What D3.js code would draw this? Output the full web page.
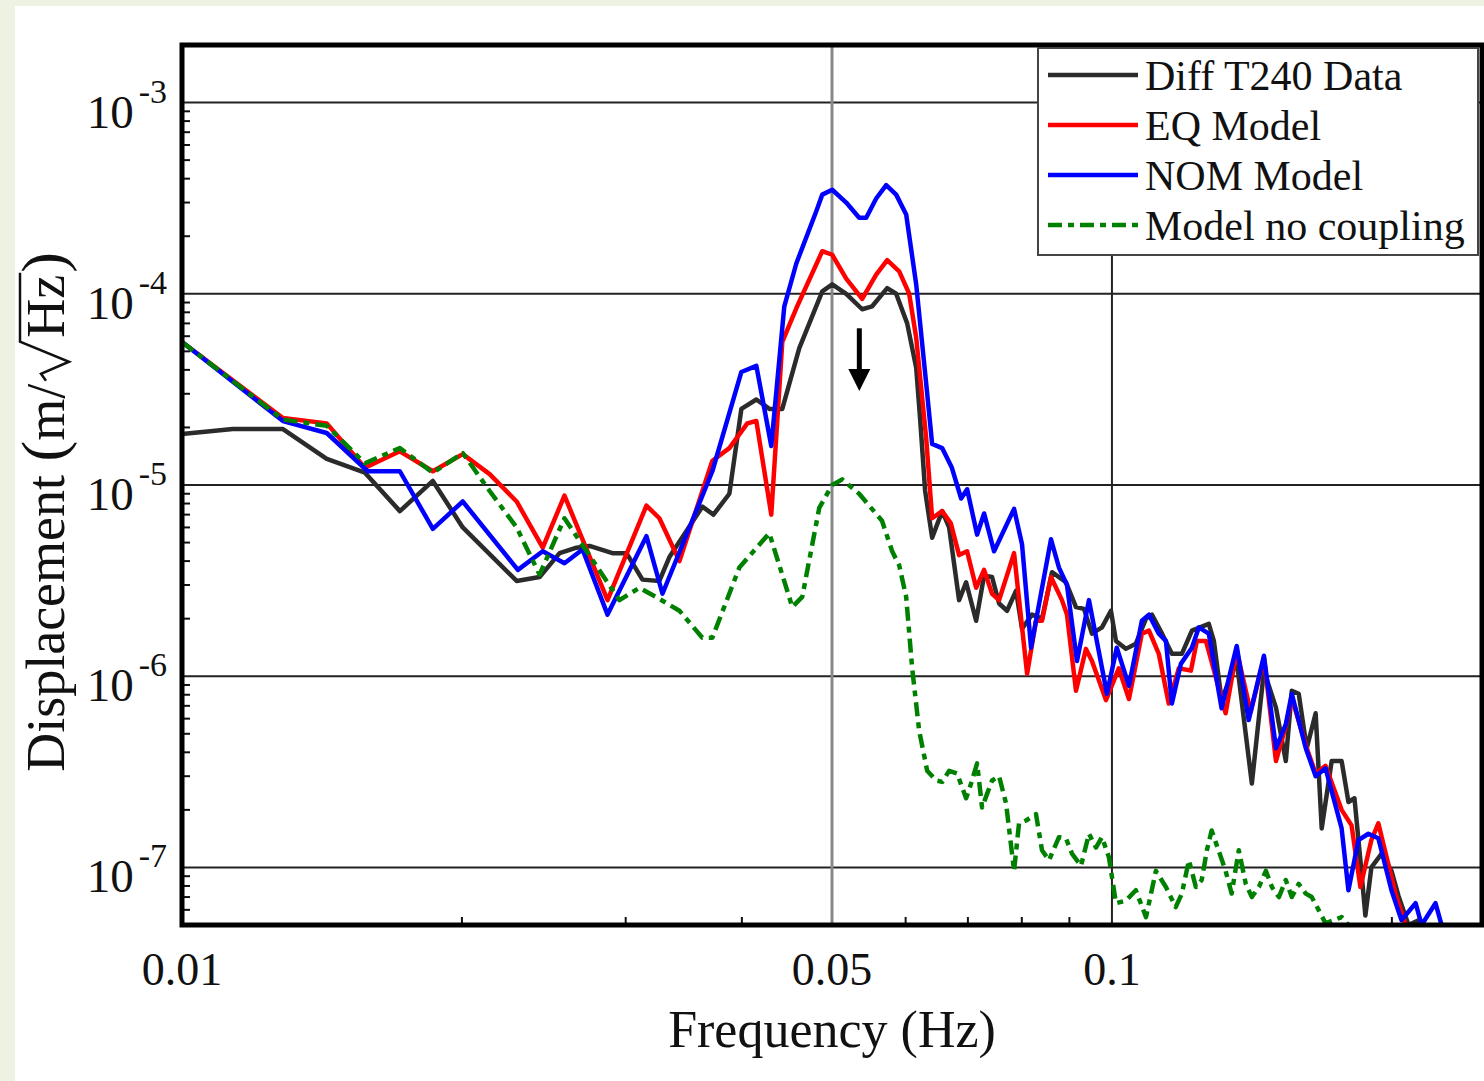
<!DOCTYPE html>
<html>
<head>
<meta charset="utf-8">
<title>Displacement spectrum</title>
<script src="https://d3js.org/d3.v7.min.js"></script>
<style>
body { margin: 0; background: #eef2e3; }
svg { display: block; }
text { font-family: 'Liberation Serif', 'Times New Roman', serif; fill: #111; }
</style>
</head>
<body>
<svg id="chart" width="1484" height="1081"></svg>
<script>
// ---- data: [frequency (Hz), displacement (m/sqrt(Hz))] ----
var diffT240 = [
  [0.01, 1.85e-5], [0.01134, 1.96e-5], [0.01284, 1.96e-5], [0.01431, 1.37e-5], [0.01573, 1.16e-5],
  [0.01715, 7.3e-6], [0.01861, 1.05e-5], [0.02004, 6.0e-6], [0.0229, 3.15e-6], [0.02424, 3.3e-6],
  [0.02547, 4.4e-6], [0.02656, 4.7e-6], [0.02743, 4.8e-6], [0.02903, 4.4e-6], [0.03006, 4.4e-6],
  [0.03127, 3.2e-6], [0.03261, 3.15e-6], [0.03343, 4.2e-6], [0.03627, 7.7e-6], [0.03728, 7.0e-6],
  [0.03878, 9.0e-6], [0.03995, 2.5e-5], [0.04146, 2.8e-5], [0.04281, 2.5e-5], [0.04421, 2.5e-5],
  [0.04611, 5.2e-5], [0.04881, 1.03e-4], [0.05003, 1.12e-4], [0.05179, 1.0e-4], [0.05388, 8.3e-5],
  [0.05523, 8.6e-5], [0.05732, 1.07e-4], [0.05861, 1.0e-4], [0.06023, 7.0e-5], [0.06159, 4.1e-5],
  [0.0622, 2.2e-5], [0.06297, 9.3e-6], [0.06407, 5.3e-6], [0.06568, 7.3e-6], [0.06682, 6.0e-6],
  [0.06849, 2.5e-6], [0.06969, 3.1e-6], [0.07144, 1.95e-6], [0.07286, 3.35e-6], [0.07432, 3.3e-6],
  [0.07562, 2.4e-6], [0.07713, 2.2e-6], [0.07887, 2.8e-6], [0.08004, 1.77e-6], [0.08205, 2.1e-6],
  [0.0841, 2.0e-6], [0.08621, 3.5e-6], [0.08924, 3.1e-6], [0.09148, 2.3e-6], [0.09331, 2.25e-6],
  [0.09517, 1.67e-6], [0.09756, 1.8e-6], [0.09975, 2.2e-6], [0.101, 1.53e-6], [0.1035, 1.39e-6],
  [0.1061, 1.48e-6], [0.1088, 2.0e-6], [0.1104, 2.1e-6], [0.1132, 1.67e-6], [0.116, 1.31e-6],
  [0.1189, 1.31e-6], [0.1219, 1.73e-6], [0.1271, 1.88e-6], [0.1287, 1.53e-6], [0.1312, 7.5e-7],
  [0.1362, 1.2e-6], [0.1414, 2.75e-7], [0.1457, 1.07e-6], [0.1501, 6.85e-7], [0.1538, 3.6e-7],
  [0.1561, 8.4e-7], [0.1588, 8.1e-7], [0.162, 4.2e-7], [0.1656, 6.4e-7], [0.1681, 1.6e-7],
  [0.1723, 3.6e-7], [0.1766, 3.6e-7], [0.1796, 2.2e-7], [0.1823, 2.3e-7], [0.185, 1.09e-7],
  [0.1873, 5.6e-8], [0.1901, 1.0e-7], [0.195, 1.18e-7], [0.1998, 9.6e-8], [0.2033, 7.1e-8],
  [0.2084, 5.0e-8], [0.2137, 5.3e-8], [0.216, 4.5e-8]
];

var eqModel = [
  [0.01, 5.6e-5], [0.01284, 2.24e-5], [0.01431, 2.1e-5], [0.01573, 1.23e-5], [0.01715, 1.5e-5],
  [0.01861, 1.18e-5], [0.02004, 1.45e-5], [0.02142, 1.14e-5], [0.0229, 8.2e-6], [0.02443, 4.7e-6],
  [0.02578, 8.8e-6], [0.02868, 2.5e-6], [0.03158, 7.8e-6], [0.03261, 6.7e-6], [0.03427, 4.0e-6],
  [0.03718, 1.34e-5], [0.03878, 1.56e-5], [0.04054, 2.1e-5], [0.04146, 2.16e-5], [0.04302, 7.0e-6],
  [0.04421, 5.6e-5], [0.04577, 8.4e-5], [0.04881, 1.67e-4], [0.05003, 1.6e-4], [0.05179, 1.2e-4],
  [0.05388, 9.4e-5], [0.05578, 1.26e-4], [0.05732, 1.5e-4], [0.05905, 1.31e-4], [0.06053, 1.0e-4],
  [0.06159, 5.9e-5], [0.06313, 1.76e-5], [0.06407, 6.7e-6], [0.06568, 7.3e-6], [0.0671, 6.3e-6],
  [0.06849, 4.3e-6], [0.06986, 4.5e-6], [0.07144, 2.9e-6], [0.07286, 3.6e-6], [0.07432, 2.7e-6],
  [0.07562, 2.5e-6], [0.07848, 4.4e-6], [0.08105, 1.03e-6], [0.08286, 1.95e-6], [0.0841, 1.95e-6],
  [0.08599, 3.3e-6], [0.08836, 2.5e-6], [0.08946, 2.1e-6], [0.09148, 8.4e-7], [0.09377, 1.39e-6],
  [0.09517, 1.2e-6], [0.09853, 7.5e-7], [0.1017, 1.1e-6], [0.1043, 7.6e-7], [0.1077, 1.67e-6],
  [0.1096, 1.73e-6], [0.1123, 1.31e-6], [0.1151, 7.2e-7], [0.118, 1.1e-6], [0.1216, 1.07e-6],
  [0.1234, 1.53e-6], [0.1262, 1.53e-6], [0.1325, 6.4e-7], [0.1362, 1.36e-6], [0.141, 6.5e-7],
  [0.1457, 1.25e-6], [0.1501, 3.6e-7], [0.1538, 5.5e-7], [0.1561, 7.7e-7], [0.162, 4.2e-7],
  [0.1656, 3.1e-7], [0.1697, 3.4e-7], [0.1766, 2.0e-7], [0.181, 1.66e-7], [0.185, 7.9e-8],
  [0.1901, 1.39e-7], [0.1934, 1.7e-7], [0.2018, 7.3e-8], [0.2069, 5.0e-8], [0.21, 4.5e-8]
];

var nomModel = [
  [0.01, 5.6e-5], [0.01284, 2.16e-5], [0.01431, 1.87e-5], [0.01584, 1.18e-5], [0.01715, 1.18e-5],
  [0.01861, 5.9e-6], [0.02004, 8.2e-6], [0.02297, 3.6e-6], [0.02443, 4.5e-6], [0.02578, 3.9e-6],
  [0.02696, 4.6e-6], [0.02868, 2.1e-6], [0.03158, 5.4e-6], [0.03286, 2.7e-6], [0.03718, 1.18e-5],
  [0.03995, 3.9e-5], [0.04146, 4.2e-5], [0.04302, 1.6e-5], [0.04443, 8.6e-5], [0.04577, 1.44e-4],
  [0.04809, 2.7e-4], [0.04881, 3.3e-4], [0.05003, 3.5e-4], [0.05179, 3.0e-4], [0.05348, 2.5e-4],
  [0.05442, 2.5e-4], [0.05578, 3.15e-4], [0.05718, 3.7e-4], [0.05861, 3.3e-4], [0.06008, 2.6e-4],
  [0.06159, 1.12e-4], [0.06313, 3.4e-5], [0.06407, 1.64e-5], [0.06568, 1.56e-5], [0.06728, 1.23e-5],
  [0.06884, 8.5e-6], [0.06987, 9.5e-6], [0.07162, 5.5e-6], [0.07286, 7.1e-6], [0.07469, 4.5e-6],
  [0.07848, 7.5e-6], [0.08004, 4.9e-6], [0.08185, 1.41e-6], [0.08599, 5.2e-6], [0.08771, 3.7e-6],
  [0.08946, 3.0e-6], [0.09171, 1.2e-6], [0.09447, 2.5e-6], [0.09877, 8.1e-7], [0.1012, 1.41e-6],
  [0.1043, 8.9e-7], [0.1077, 1.95e-6], [0.1096, 2.1e-6], [0.1123, 1.67e-6], [0.1143, 1.53e-6],
  [0.116, 7.2e-7], [0.1186, 1.16e-6], [0.1219, 1.41e-6], [0.124, 1.8e-6], [0.1271, 1.67e-6],
  [0.1312, 6.8e-7], [0.1362, 1.44e-6], [0.1403, 5.9e-7], [0.1457, 1.28e-6], [0.1501, 4.2e-7],
  [0.1538, 5.6e-7], [0.1561, 8.1e-7], [0.1616, 4.2e-7], [0.1656, 3.0e-7], [0.1697, 3.3e-7],
  [0.1766, 1.6e-7], [0.1796, 7.6e-8], [0.1841, 1.39e-7], [0.1887, 1.5e-7], [0.1934, 1.42e-7],
  [0.1998, 7.6e-8], [0.2048, 5.3e-8], [0.2121, 6.5e-8], [0.2153, 5.0e-8], [0.2228, 6.5e-8],
  [0.2262, 5.0e-8]
];

var noCoupling = [
  [0.01, 5.6e-5], [0.01284, 2.2e-5], [0.01431, 2.04e-5], [0.01573, 1.3e-5], [0.01715, 1.56e-5],
  [0.01861, 1.16e-5], [0.02004, 1.47e-5], [0.02142, 9.3e-6], [0.0229, 6.0e-6], [0.02424, 3.4e-6],
  [0.02578, 6.7e-6], [0.02954, 2.5e-6], [0.03104, 2.9e-6], [0.03233, 2.6e-6], [0.03427, 2.2e-6],
  [0.03627, 1.59e-6], [0.03718, 1.59e-6], [0.03975, 3.7e-6], [0.04281, 5.6e-6], [0.04532, 2.3e-6],
  [0.04645, 2.6e-6], [0.04845, 7.6e-6], [0.05003, 1.0e-5], [0.05128, 1.07e-5], [0.05348, 9.0e-6],
  [0.05659, 6.5e-6], [0.05803, 4.5e-6], [0.05905, 3.8e-6], [0.06008, 2.6e-6], [0.06098, 1.1e-6],
  [0.06204, 5.2e-7], [0.06329, 3.2e-7], [0.0647, 2.85e-7], [0.06568, 2.8e-7], [0.06682, 3.2e-7],
  [0.06815, 3.1e-7], [0.06969, 2.3e-7], [0.07056, 2.75e-7], [0.07162, 3.5e-7], [0.0725, 2.06e-7],
  [0.07432, 2.85e-7], [0.07562, 3.0e-7], [0.07694, 2.16e-7], [0.07848, 9.6e-8], [0.07945, 1.7e-7],
  [0.08084, 1.76e-7], [0.08286, 1.9e-7], [0.0841, 1.23e-7], [0.08557, 1.09e-7], [0.08771, 1.44e-7],
  [0.08924, 1.42e-7], [0.09058, 1.18e-7], [0.09263, 1.02e-7], [0.09447, 1.5e-7], [0.09612, 1.27e-7],
  [0.09756, 1.44e-7], [0.09926, 1.13e-7], [0.101, 6.5e-8], [0.1035, 6.7e-8], [0.1061, 7.6e-8],
  [0.1088, 5.5e-8], [0.1115, 9.6e-8], [0.1143, 7.9e-8], [0.1171, 6.2e-8], [0.1189, 7.3e-8],
  [0.121, 1.09e-7], [0.1231, 7.9e-8], [0.1249, 8.6e-8], [0.1265, 1.23e-7], [0.128, 1.56e-7],
  [0.1302, 1.23e-7], [0.1325, 9.6e-8], [0.1345, 7.3e-8], [0.1369, 1.23e-7], [0.1393, 8.2e-8],
  [0.1414, 7.0e-8], [0.1439, 7.9e-8], [0.1464, 9.6e-8], [0.1486, 7.9e-8], [0.1512, 7.0e-8],
  [0.1538, 8.6e-8], [0.1561, 7.0e-8], [0.1588, 8.2e-8], [0.1616, 7.3e-8], [0.164, 7.0e-8],
  [0.1668, 6.0e-8], [0.1697, 5.1e-8], [0.1766, 5.5e-8], [0.1796, 5.0e-8]
];

var xTickLabels = [0.01, 0.05, 0.1];
var xGrid = [0.05, 0.1];
var yExponents = [-3, -4, -5, -6, -7];
var legendLabels = ["Diff T240 Data", "EQ Model", "NOM Model", "Model no coupling"];

// series styles, in drawing order (later on top)
var series = [
  { data: diffT240, color: "#2b2b2b", dash: null },
  { data: eqModel, color: "#ff0000", dash: null },
  { data: nomModel, color: "#0000ff", dash: null },
  { data: noCoupling, color: "#008000", dash: "14,6,6,6" }
];

var svg = d3.select("#chart");

// plot box (note: "top" is taken by window.top, so prefixed names)
var boxLeft = 182, boxRight = 1482, boxTop = 45, boxBottom = 925;

var x = d3.scaleLog().domain([0.01, 0.25]).range([boxLeft, boxRight]);
var y = d3.scaleLog().domain([5e-8, 2e-3]).range([boxBottom, boxTop]);

// white page
svg.append("rect")
  .attr("x", 15).attr("y", 6)
  .attr("width", 1484 - 15).attr("height", 1081 - 6)
  .style("fill", "#ffffff");

svg.append("defs").append("clipPath")
  .attr("id", "plotClip")
  .append("rect")
  .attr("x", boxLeft).attr("y", boxTop)
  .attr("width", boxRight - boxLeft).attr("height", boxBottom - boxTop);

// ---- grid ----
svg.selectAll("line.hgrid")
  .data(yExponents)
  .enter().append("line")
  .attr("class", "hgrid")
  .attr("x1", boxLeft).attr("x2", boxRight)
  .attr("y1", function(e) { return y(Math.pow(10, e)); })
  .attr("y2", function(e) { return y(Math.pow(10, e)); })
  .style("stroke", "#222")
  .style("stroke-width", 2);

svg.selectAll("line.vgrid")
  .data(xGrid)
  .enter().append("line")
  .attr("class", "vgrid")
  .attr("x1", function(d) { return x(d); })
  .attr("x2", function(d) { return x(d); })
  .attr("y1", boxTop).attr("y2", boxBottom)
  .style("stroke", function(d) { return d === 0.05 ? "#888" : "#222"; })
  .style("stroke-width", function(d) { return d === 0.05 ? 3 : 2; });

// ---- minor ticks (inside) ----
var yMinor = [];
for (var e = -8; e <= -3; e++) {
  for (var k = 2; k <= 9; k++) {
    var v = k * Math.pow(10, e);
    if (v > 5e-8 && v < 2e-3) yMinor.push(v);
  }
}
svg.selectAll("line.ytick")
  .data(yMinor)
  .enter().append("line")
  .attr("class", "ytick")
  .attr("x1", boxLeft).attr("x2", boxLeft + 8)
  .attr("y1", function(d) { return y(d); })
  .attr("y2", function(d) { return y(d); })
  .style("stroke", "#111").style("stroke-width", 2);

var xMinor = [0.02, 0.03, 0.04, 0.06, 0.07, 0.08, 0.09, 0.2];
svg.selectAll("line.xtick")
  .data(xMinor)
  .enter().append("line")
  .attr("class", "xtick")
  .attr("x1", function(d) { return x(d); })
  .attr("x2", function(d) { return x(d); })
  .attr("y1", boxBottom).attr("y2", boxBottom - 8)
  .style("stroke", "#111").style("stroke-width", 2);

// ---- curves ----
var lineGen = d3.line()
  .x(function(d) { return x(d[0]); })
  .y(function(d) { return y(d[1]); });

var curves = svg.append("g").attr("clip-path", "url(#plotClip)");
series.forEach(function(s) {
  curves.append("path")
    .attr("d", lineGen(s.data))
    .style("fill", "none")
    .style("stroke", s.color)
    .style("stroke-width", 4.5)
    .style("stroke-linejoin", "round")
    .style("stroke-dasharray", s.dash);
});

// ---- arrow at the dip ----
var ax = x(0.0535);
var a0 = y(6.6e-5), a1 = y(3.1e-5);
svg.append("line")
  .attr("x1", ax).attr("x2", ax)
  .attr("y1", a0).attr("y2", a1 - 18)
  .style("stroke", "#000").style("stroke-width", 5);
svg.append("path")
  .attr("d", "M" + (ax - 11) + "," + (a1 - 22) + "L" + (ax + 11) + "," + (a1 - 22) + "L" + ax + "," + a1 + "Z")
  .style("fill", "#000");

// ---- frame ----
svg.append("rect")
  .attr("x", boxLeft).attr("y", boxTop)
  .attr("width", boxRight - boxLeft).attr("height", boxBottom - boxTop)
  .style("fill", "none")
  .style("stroke", "#000")
  .style("stroke-width", 5);

// ---- tick labels ----
svg.selectAll("text.xlab")
  .data(xTickLabels)
  .enter().append("text")
  .attr("class", "xlab")
  .attr("x", function(d) { return x(d); })
  .attr("y", 985)
  .attr("text-anchor", "middle")
  .style("font-size", "46px")
  .text(function(d) { return String(d); });

var ylab = svg.selectAll("text.ylab")
  .data(yExponents)
  .enter().append("text")
  .attr("class", "ylab")
  .attr("x", 167)
  .attr("y", function(e) { return y(Math.pow(10, e)) + 25; })
  .attr("text-anchor", "end");
ylab.append("tspan").style("font-size", "47px").text("10");
ylab.append("tspan").style("font-size", "34px").attr("dx", 5).attr("dy", -25)
  .text(function(e) { return "-" + Math.abs(e); });

// ---- axis titles ----
svg.append("text")
  .attr("x", x(0.05))
  .attr("y", 1047)
  .attr("text-anchor", "middle")
  .style("font-size", "52px")
  .text("Frequency (Hz)");

// y title: Displacement (m/sqrt(Hz)), built in pieces so the radical can be drawn
var yt = svg.append("g").attr("transform", "translate(64,512) rotate(-90)");
var inner = yt.append("g");
var cx = 0;
function piece(str, size) {
  var t = inner.append("text").attr("x", cx).style("font-size", size + "px").text(str);
  cx += t.node().getComputedTextLength();
  return t;
}
piece("Displacement\u00a0", 54);
piece("(", 62);
piece("m/", 54);
var radX = cx;
var radW = 46;
cx += radW;
piece("Hz", 54);
var hzEnd = cx;
cx += 2;
piece(")", 62);
inner.append("path")
  .attr("d", "M" + (radX + 3) + ",-18 L" + (radX + 10) + ",-23 L" + (radX + 22) + ",5 L" + (radX + radW - 4) + ",-44 L" + (hzEnd + 2) + ",-44")
  .style("fill", "none").style("stroke", "#111").style("stroke-width", 2.5)
  .style("stroke-linejoin", "miter");
inner.attr("transform", "translate(" + (-cx / 2) + ",0)");

// ---- legend ----
var lg = svg.append("g");
lg.append("rect")
  .attr("x", 1038).attr("y", 48)
  .attr("width", 440).attr("height", 207)
  .style("fill", "#fff")
  .style("stroke", "#444")
  .style("stroke-width", 2);

var rows = lg.selectAll("g.row")
  .data(legendLabels)
  .enter().append("g")
  .attr("class", "row")
  .attr("transform", function(d, i) { return "translate(0," + (75 + i * 50) + ")"; });

rows.append("line")
  .attr("x1", 1048).attr("x2", 1138)
  .attr("y1", 0).attr("y2", 0)
  .style("stroke", function(d, i) { return series[i].color; })
  .style("stroke-width", 4.5)
  .style("stroke-dasharray", function(d, i) { return series[i].dash; });

rows.append("text")
  .attr("x", 1145)
  .attr("y", 15)
  .style("font-size", "42px")
  .text(function(d) { return d; });
</script>
</body>
</html>
